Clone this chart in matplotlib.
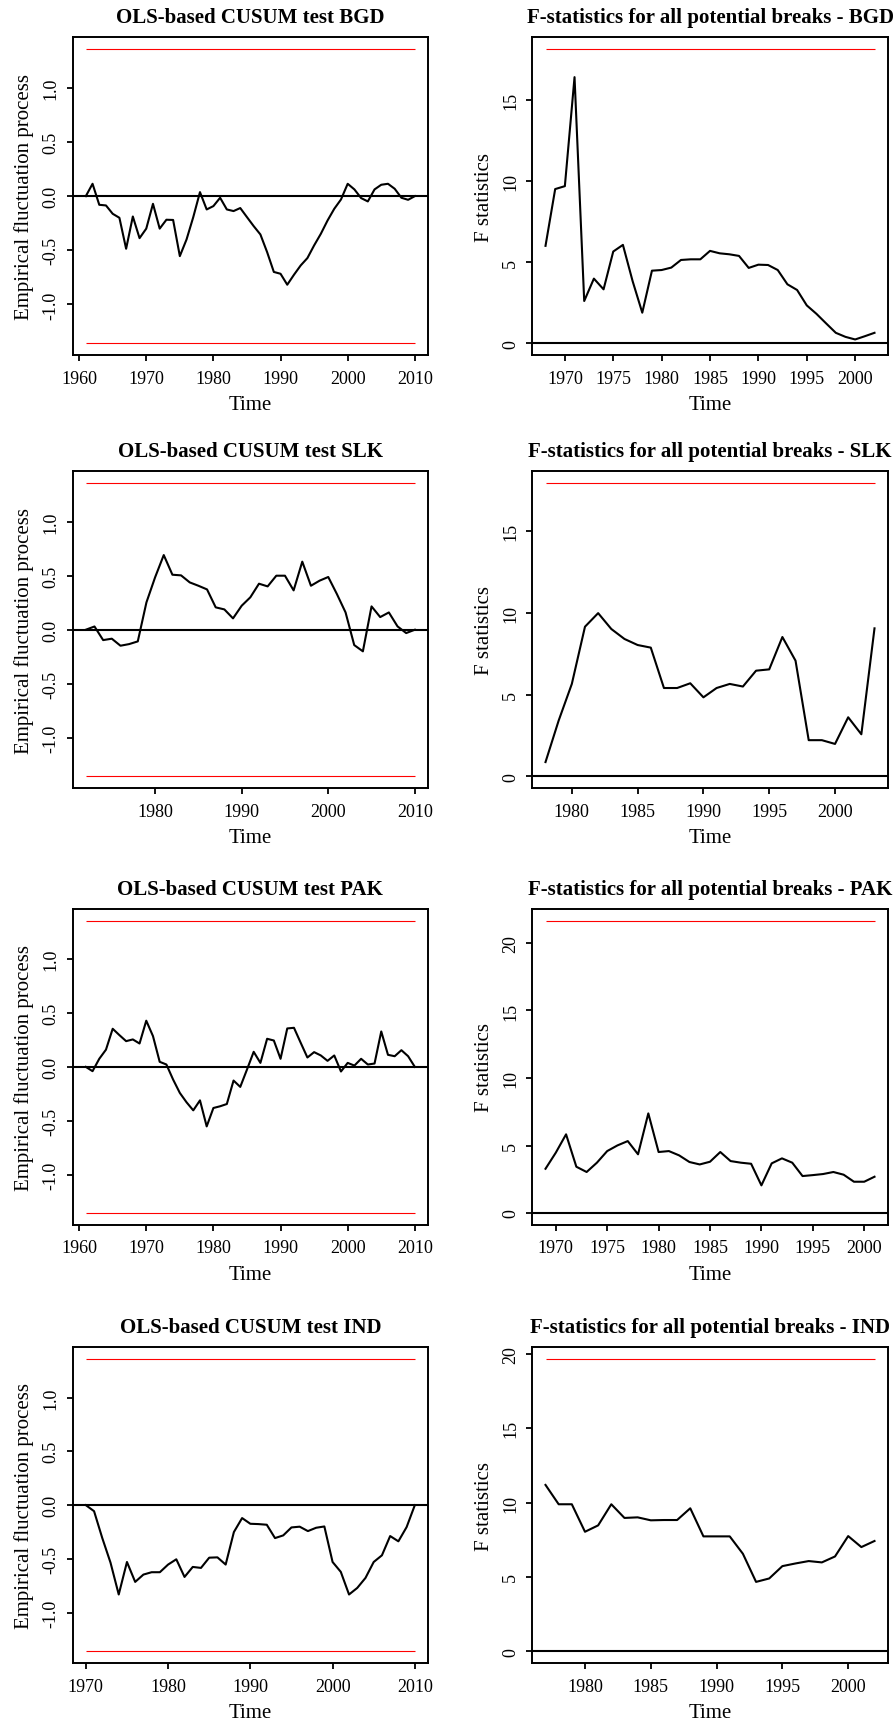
import numpy as np
import matplotlib
matplotlib.use('Agg')
import matplotlib.pyplot as plt
from matplotlib.ticker import MultipleLocator

plt.rcParams['font.family'] = ['Liberation Serif', 'DejaVu Serif']
plt.rcParams['axes.unicode_minus'] = False

# ---- data ----
countries = ['BGD', 'SLK', 'PAK', 'IND']

cusum_start = {'BGD': 1961, 'SLK': 1972, 'PAK': 1961, 'IND': 1970}
cusum_bgd = [0.0, 0.114, -0.08, -0.086, -0.163, -0.2, -0.486, -0.188, -0.388, -0.30,
             -0.071, -0.30, -0.218, -0.22, -0.554, -0.40, -0.194, 0.037, -0.123, -0.092,
             -0.015, -0.123, -0.138, -0.11, -0.194, -0.277, -0.354, -0.517, -0.70, -0.717,
             -0.818, -0.726, -0.64, -0.572, -0.455, -0.348, -0.225, -0.117, -0.031, 0.114,
             0.062, -0.018, -0.049, 0.062, 0.105, 0.114, 0.068, -0.015, -0.034, 0.0]
cusum_slk = [0.0, 0.03, -0.096, -0.083, -0.148, -0.133, -0.108, 0.253, 0.485, 0.691,
             0.509, 0.503, 0.438, 0.407, 0.373, 0.207, 0.188, 0.105, 0.222, 0.30,
             0.426, 0.401, 0.50, 0.50, 0.364, 0.63, 0.407, 0.454, 0.488, 0.33,
             0.16, -0.142, -0.20, 0.216, 0.117, 0.16, 0.031, -0.031, 0.0]
cusum_pak = [0.0, -0.04, 0.075, 0.16, 0.354, 0.295, 0.239, 0.255, 0.217, 0.429,
             0.286, 0.047, 0.022, -0.118, -0.242, -0.329, -0.404, -0.311, -0.553, -0.382,
             -0.366, -0.345, -0.127, -0.186, -0.025, 0.14, 0.037, 0.261, 0.245, 0.075,
             0.357, 0.363, 0.224, 0.087, 0.137, 0.106, 0.056, 0.106, -0.043, 0.037,
             0.012, 0.075, 0.022, 0.031, 0.329, 0.112, 0.099, 0.155, 0.099, 0.0]
cusum_ind = [0.0, -0.056, -0.306, -0.534, -0.83, -0.528, -0.713, -0.645, -0.623, -0.623,
             -0.552, -0.503, -0.667, -0.574, -0.583, -0.488, -0.485, -0.552, -0.25, -0.12,
             -0.173, -0.176, -0.182, -0.306, -0.281, -0.207, -0.20, -0.241, -0.21, -0.198,
             -0.528, -0.62, -0.83, -0.769, -0.676, -0.528, -0.466, -0.287, -0.336, -0.204, 0.0]
cusum_bound = 1.358

fstat_start = {'BGD': 1968, 'SLK': 1978, 'PAK': 1969, 'IND': 1977}
fstat_bgd = [6.0, 9.5, 9.68, 16.4, 2.6, 3.98, 3.32, 5.65, 6.06, 3.83,
             1.88, 4.47, 4.51, 4.66, 5.13, 5.17, 5.17, 5.69, 5.54, 5.48,
             5.38, 4.64, 4.84, 4.82, 4.51, 3.63, 3.28, 2.33, 1.81, 1.22,
             0.64, 0.39, 0.23, 0.43, 0.64]
fstat_slk = [0.88, 3.42, 5.66, 9.16, 9.99, 9.02, 8.41, 8.04, 7.88, 5.41,
             5.41, 5.70, 4.84, 5.41, 5.66, 5.50, 6.47, 6.55, 8.53, 7.08,
             2.22, 2.22, 1.99, 3.62, 2.58, 9.06]
fstat_pak = [3.28, 4.47, 5.83, 3.43, 3.04, 3.73, 4.59, 5.01, 5.33, 4.35,
             7.38, 4.52, 4.59, 4.27, 3.78, 3.60, 3.80, 4.52, 3.85, 3.73,
             3.65, 2.05, 3.68, 4.05, 3.73, 2.74, 2.81, 2.89, 3.04, 2.84,
             2.32, 2.32, 2.69]
fstat_ind = [11.19, 9.89, 9.89, 8.04, 8.47, 9.89, 8.97, 9.01, 8.81, 8.83,
             8.83, 9.62, 7.73, 7.73, 7.73, 6.56, 4.67, 4.90, 5.73, 5.91,
             6.07, 5.98, 6.38, 7.75, 7.01, 7.42]
fstat_crit = {'BGD': 18.13, 'SLK': 17.95, 'PAK': 21.65, 'IND': 19.66}

cusum_data = {'BGD': cusum_bgd, 'SLK': cusum_slk, 'PAK': cusum_pak, 'IND': cusum_ind}
fstat_data = {'BGD': fstat_bgd, 'SLK': fstat_slk, 'PAK': fstat_pak, 'IND': fstat_ind}


def r_range(lo, hi):
    # R's default 4% axis extension
    d = (hi - lo) * 0.04
    return lo - d, hi + d


def style(ax, xstep, ystep):
    for s in ax.spines.values():
        s.set_linewidth(1.4)
    ax.xaxis.set_major_locator(MultipleLocator(xstep))
    ax.yaxis.set_major_locator(MultipleLocator(ystep))
    ax.tick_params(direction='out', length=4.5, width=1.3, labelsize=13)
    ax.tick_params(axis='x', pad=6)
    ax.tick_params(axis='y', pad=5)
    ax.set_xlabel('Time', fontsize=15, labelpad=6)


def rotate_yticks(ax):
    for lab in ax.get_yticklabels():
        lab.set_rotation(90)
        lab.set_va('center')


fig = plt.figure(figsize=(8.95, 17.33), dpi=100)

lefts = [0.0812, 0.5948]
width = 0.397
bottoms = [0.7946, 0.5446, 0.2927, 0.0398]
heights = [0.1833, 0.1829, 0.1822, 0.1822]

for i, c in enumerate(countries):
    # CUSUM panel
    ax = fig.add_axes([lefts[0], bottoms[i], width, heights[i]])
    vals = cusum_data[c]
    yrs = np.arange(cusum_start[c], cusum_start[c] + len(vals))
    ax.plot(yrs, vals, color='black', lw=1.5)
    ax.axhline(0, color='black', lw=1.5)
    ax.hlines([cusum_bound, -cusum_bound], yrs[0], yrs[-1], color='red', lw=0.8)
    ax.set_xlim(*r_range(yrs[0], yrs[-1]))
    ax.set_ylim(*r_range(-cusum_bound, cusum_bound))
    style(ax, 10, 0.5)
    ax.yaxis.set_major_formatter(plt.FuncFormatter(lambda v, p: '%.1f' % v))
    rotate_yticks(ax)
    ax.set_ylabel('Empirical fluctuation process', fontsize=15, labelpad=6)
    ax.set_title('OLS-based CUSUM test ' + c, fontsize=15, fontweight='bold', pad=11)

    # F statistics panel
    ax = fig.add_axes([lefts[1], bottoms[i], width, heights[i]])
    vals = fstat_data[c]
    yrs = np.arange(fstat_start[c], fstat_start[c] + len(vals))
    ax.plot(yrs, vals, color='black', lw=1.5)
    ax.axhline(0, color='black', lw=1.5)
    ax.hlines(fstat_crit[c], yrs[0], yrs[-1], color='red', lw=0.8)
    ax.set_xlim(*r_range(yrs[0], yrs[-1]))
    ax.set_ylim(*r_range(0, fstat_crit[c]))
    style(ax, 5, 5)
    rotate_yticks(ax)
    ax.set_ylabel('F statistics', fontsize=15, labelpad=6)
    ax.set_title('F-statistics for all potential breaks - ' + c, fontsize=15,
                 fontweight='bold', pad=11)

fig.savefig('out.png', dpi=100)
